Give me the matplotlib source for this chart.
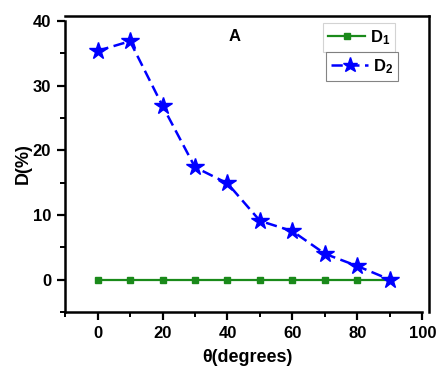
import matplotlib
matplotlib.use("Agg")
import matplotlib.pyplot as plt
from matplotlib.ticker import MultipleLocator

plt.rcParams["font.family"] = "Liberation Sans"
plt.rcParams["font.weight"] = "bold"
plt.rcParams["mathtext.default"] = "regular"

theta = [0, 10, 20, 30, 40, 50, 60, 70, 80, 90]
d1 = [0, 0, 0, 0, 0, 0, 0, 0, 0, 0]
d2 = [35.4, 36.9, 26.9, 17.4, 14.9, 9.1, 7.5, 4.0, 2.1, 0.0]

fig = plt.figure(figsize=(4.38, 3.70), dpi=100)
ax = fig.add_axes([65 / 438, 1 - 312 / 370, (429 - 65) / 438, (312 - 16) / 370])

l1, = ax.plot(theta, d1, color="#1a8a1a", lw=1.6, marker="s", ms=5, label="D$_1$")
l2, = ax.plot(theta, d2, color="#0000ff", lw=1.8, ls=(0, (4.5, 2.2)), marker="*", ms=13,
              label="D$_2$")

ax.set_xlim(-10, 102)
ax.set_ylim(-5, 40.8)
ax.spines["left"].set_bounds(-5, 40)
ax.spines["bottom"].set_bounds(-10, 100)
for s in ax.spines.values():
    s.set_linewidth(1.8)

ax.xaxis.set_minor_locator(MultipleLocator(10))
ax.yaxis.set_minor_locator(MultipleLocator(5))
ax.set_xticks([0, 20, 40, 60, 80, 100])
ax.set_yticks([0, 10, 20, 30, 40])
ax.tick_params(which="major", length=6, width=1.6, labelsize=12, direction="out", pad=4)
ax.tick_params(which="minor", length=3.5, width=1.4, direction="out")

ax.set_xlabel("θ(degrees)", fontsize=13, fontweight="bold", labelpad=6)
ax.set_ylabel("D(%)", fontsize=13, fontweight="bold", labelpad=1)

ax.text(0.465, 0.93, "A", transform=ax.transAxes, fontsize=12, fontweight="bold",
        ha="center", va="center")

leg1 = ax.legend(handles=[l1], loc="upper left", bbox_to_anchor=(0.71, 0.976),
                 prop={"size": 12, "weight": "bold"}, frameon=True, fancybox=False,
                 handlelength=2.2, handletextpad=0.3, borderpad=0.3, borderaxespad=0,
                 markerscale=1.0)
leg1.get_frame().set_edgecolor("#c8c8c8")
leg1.get_frame().set_linewidth(0.8)
ax.add_artist(leg1)
leg2 = ax.legend(handles=[l2], loc="upper left", bbox_to_anchor=(0.718, 0.878),
                 prop={"size": 12, "weight": "bold"}, frameon=True, fancybox=False,
                 handlelength=2.2, handletextpad=0.3, borderpad=0.3, borderaxespad=0,
                 markerscale=0.85)
leg2.get_frame().set_edgecolor("#666666")
leg2.get_frame().set_linewidth(0.8)

fig.savefig("out.png", dpi=100)
